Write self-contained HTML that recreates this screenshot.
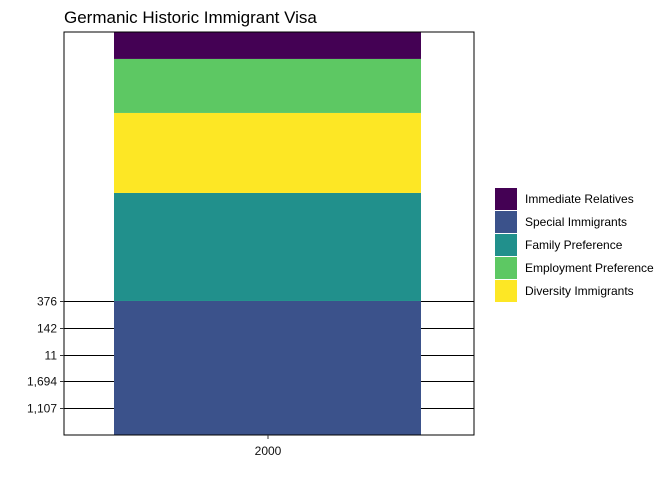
<!DOCTYPE html>
<html><head><meta charset="utf-8"><style>
body{margin:0;background:#fff;}
svg text{font-family:"Liberation Sans",Arial,sans-serif;}
</style></head><body>
<svg id="chart" width="672" height="480" xmlns="http://www.w3.org/2000/svg">
<rect width="672" height="480" fill="#fff"/>
<text x="64" y="23" font-size="17" fill="#000">Germanic Historic Immigrant Visa</text>
<g id="grid"></g>
<g id="bars"></g>
<rect x="64" y="32" width="410" height="403" fill="none" stroke="#000" stroke-width="1"/>
<g id="yaxis"></g>
<line x1="268" y1="435" x2="268" y2="439" stroke="#333"/>
<text x="268" y="455" font-size="12" text-anchor="middle" fill="#111">2000</text>
<g id="legend"></g>
</svg>
<script>
const categories = ["2000"];
const seriesNames = ["Special Immigrants","Family Preference","Diversity Immigrants","Employment Preference","Immediate Relatives"];
const seriesValues = [1000, 806, 597, 403, 201];
const colors = ["#3B528B","#21908C","#FDE725","#5DC863","#440154"];
const tickLabels = ["376","142","11","1,694","1,107"];
const tickValues = [1000, 800, 600, 400, 200];
const legendNames = ["Immediate Relatives","Special Immigrants","Family Preference","Employment Preference","Diversity Immigrants"];
const legendColors = ["#440154","#3B528B","#21908C","#5DC863","#FDE725"];

const NS="http://www.w3.org/2000/svg";
const total = seriesValues.reduce((a,b)=>a+b,0);
const y0=435, y1=32;
function yScale(v){return y0-(v/total)*(y0-y1);}
function mk(tag,attrs,parent){const e=document.createElementNS(NS,tag);for(const k in attrs)e.setAttribute(k,attrs[k]);parent.appendChild(e);return e;}

const grid=document.getElementById('grid'), ya=document.getElementById('yaxis');
tickValues.forEach((v,i)=>{
  const y=Math.round(yScale(v))+0.5;
  const l=mk('line',{x1:64,x2:474,y1:y,y2:y,stroke:'#000','stroke-width':1},grid);
  
  
  const t=mk('line',{x1:60,x2:64,y1:y,y2:y,stroke:'#333'},ya);
  
  
  const tx=mk('text',{x:57,y:y+4,'font-size':12,'text-anchor':'end',fill:'#111'},ya);
  tx.textContent=tickLabels[i];
  
  
});

const bars=document.getElementById('bars');
let cum=0;
seriesValues.forEach((v,i)=>{
  const top=yScale(cum+v), bot=yScale(cum);
  const r=mk('rect',{x:114,y:top,width:307,height:bot-top,fill:colors[i]},bars);
  
  
  cum+=v;
});

const lg=document.getElementById('legend');
legendNames.forEach((n,i)=>{
  const y=188+i*23;
  const r=mk('rect',{x:495,y:y,width:22,height:22,fill:legendColors[i]},lg);
  
  
  const t=mk('text',{x:525,y:y+15,'font-size':12,fill:'#000'},lg);
  t.textContent=n;
  
  
});
</script>
</body></html>
